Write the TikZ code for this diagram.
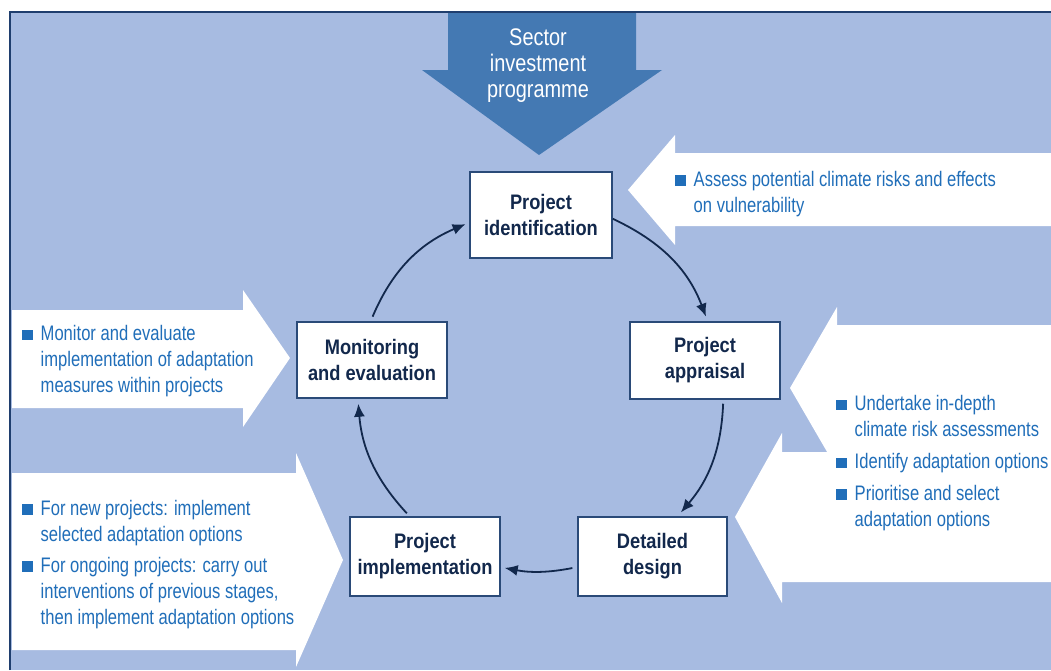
\documentclass[tikz,border=0pt]{standalone}
\usepackage{fontspec}
\setmainfont{Liberation Sans}
\newfontfamily\notefont{Liberation Sans}[FakeStretch=0.79]
\newfontfamily\stagefont{Liberation Sans}[FakeStretch=0.87]
\newfontfamily\sectorfont{Liberation Sans}[FakeStretch=0.83]
\usepackage{xcolor}
\usepackage{tikz}
\usetikzlibrary{arrows.meta}

\definecolor{panelblue}{HTML}{A7BBE1}
\definecolor{sectorblue}{HTML}{4479B3}
\definecolor{frameblue}{HTML}{1F3E6E}
\definecolor{noteblue}{HTML}{206EB9}
\definecolor{stagenavy}{HTML}{12284C}
\definecolor{boxline}{HTML}{2A4A78}

\newcommand{\bsq}{{\color{noteblue}\rule[0.5pt]{10.5pt}{10.5pt}}}

\begin{document}
\begin{tikzpicture}[x=1pt,y=-1pt,
    stage/.style={draw=boxline, line width=1.5pt, fill=white, align=center, inner sep=0pt,
        minimum width=150pt, text=stagenavy, font=\stagefont\bfseries\fontsize{21}{26}\selectfont},
    note/.style={anchor=base west, inner sep=0pt, text=noteblue, font=\notefont\fontsize{21}{26}\selectfont},
    flow/.style={draw=stagenavy, line width=1.8pt, -{Latex[length=13pt,width=11pt]}},
    wide arrow/.style={fill=white}]
    \useasboundingbox (0,0) rectangle (1051,670);
    \fill[white] (0,0) rectangle (1051,670);
    \fill[panelblue] (10,12) rectangle (1051,670);

    \fill[sectorblue] (448,13) -- (636,13) -- (636,70) -- (662,70) -- (539,155)
        -- (422,70) -- (448,70) -- cycle;
    \node[anchor=base, inner sep=0pt, text=white, font=\sectorfont\fontsize{24}{26}\selectfont] (sector) at (538,45)
        {\begin{tabular}[t]{@{}c@{}}Sector\\investment\\programme\end{tabular}};

    % input arrows
    \fill[wide arrow] (1051,153) -- (675,153) -- (675,135) -- (628,190) -- (675,245) -- (675,226) -- (1051,226) -- cycle;
    \fill[wide arrow] (12,310) -- (243,310) -- (243,290) -- (290,358) -- (243,427) -- (243,408) -- (12,408) -- cycle;
    \fill[wide arrow] (12,473) -- (296,473) -- (296,453) -- (343,560) -- (296,667) -- (296,650) -- (12,650) -- cycle;
    \fill[wide arrow] (1051,325) -- (837,325) -- (837,307) -- (790,388) -- (837,469) -- (837,458) -- (1051,458) -- cycle;
    \fill[wide arrow] (1051,452) -- (782,452) -- (782,433) -- (735,517) -- (782,603) -- (782,582) -- (1051,582) -- cycle;

    \draw[frameblue, line width=2.5pt] (10,670) -- (10,12) -- (1051,12);

    \node[note] (risknote) at (675,186) {\begin{tabular}[t]{@{}l@{\hspace{8pt}}l@{}}
        \bsq & Assess potential climate risks and effects\\
             & on vulnerability\end{tabular}};
    \node[note] (monitornote) at (22,340.5) {\begin{tabular}[t]{@{}l@{\hspace{8pt}}l@{}}
        \bsq & Monitor and evaluate\\
             & implementation of adaptation\\
             & measures within projects\end{tabular}};
    \node[note] (implementnote) at (22,515) {\begin{tabular}[t]{@{}l@{\hspace{8pt}}l@{}}
        \bsq & For new projects: implement\\
             & selected adaptation options\\[5pt]
        \bsq & For ongoing projects: carry out\\
             & interventions of previous stages,\\
             & then implement adaptation options\end{tabular}};
    \node[note] (designnote) at (836,410.7) {\begin{tabular}[t]{@{}l@{\hspace{8pt}}l@{}}
        \bsq & Undertake in-depth\\
             & climate risk assessments\\[6pt]
        \bsq & Identify adaptation options\\[5.5pt]
        \bsq & Prioritise and select\\
             & adaptation options\end{tabular}};

    % project cycle
    \node[stage, minimum width=142pt, minimum height=86pt] (ident) at (541,215) {Project\\identification};
    \node[stage, minimum height=77pt] (appraisal) at (705,360.5) {Project\\appraisal};
    \node[stage, minimum width=149pt, minimum height=79pt] (design) at (652.5,556.5) {Detailed\\design};
    \node[stage, minimum height=79pt] (implement) at (425,556.5) {Project\\implementation};
    \node[stage, minimum height=76pt] (monitor) at (372,360) {Monitoring\\and evaluation};

    \draw[flow, shorten >=5pt] (ident.-3) to[bend left=22] (appraisal.86);
    \draw[flow, shorten <=4pt, shorten >=5pt] (appraisal.-65) to[bend left=19] (design.58);
    \draw[flow, shorten <=5pt, shorten >=4pt] (design.188) to[bend left=11] (implement.-8);
    \draw[flow, shorten <=4pt, shorten >=5pt] (implement.111) to[bend left=19] (monitor.-110);
    \draw[flow, shorten <=5pt, shorten >=4pt] (monitor.92) to[bend left=22] (ident.186);
\end{tikzpicture}
\end{document}
